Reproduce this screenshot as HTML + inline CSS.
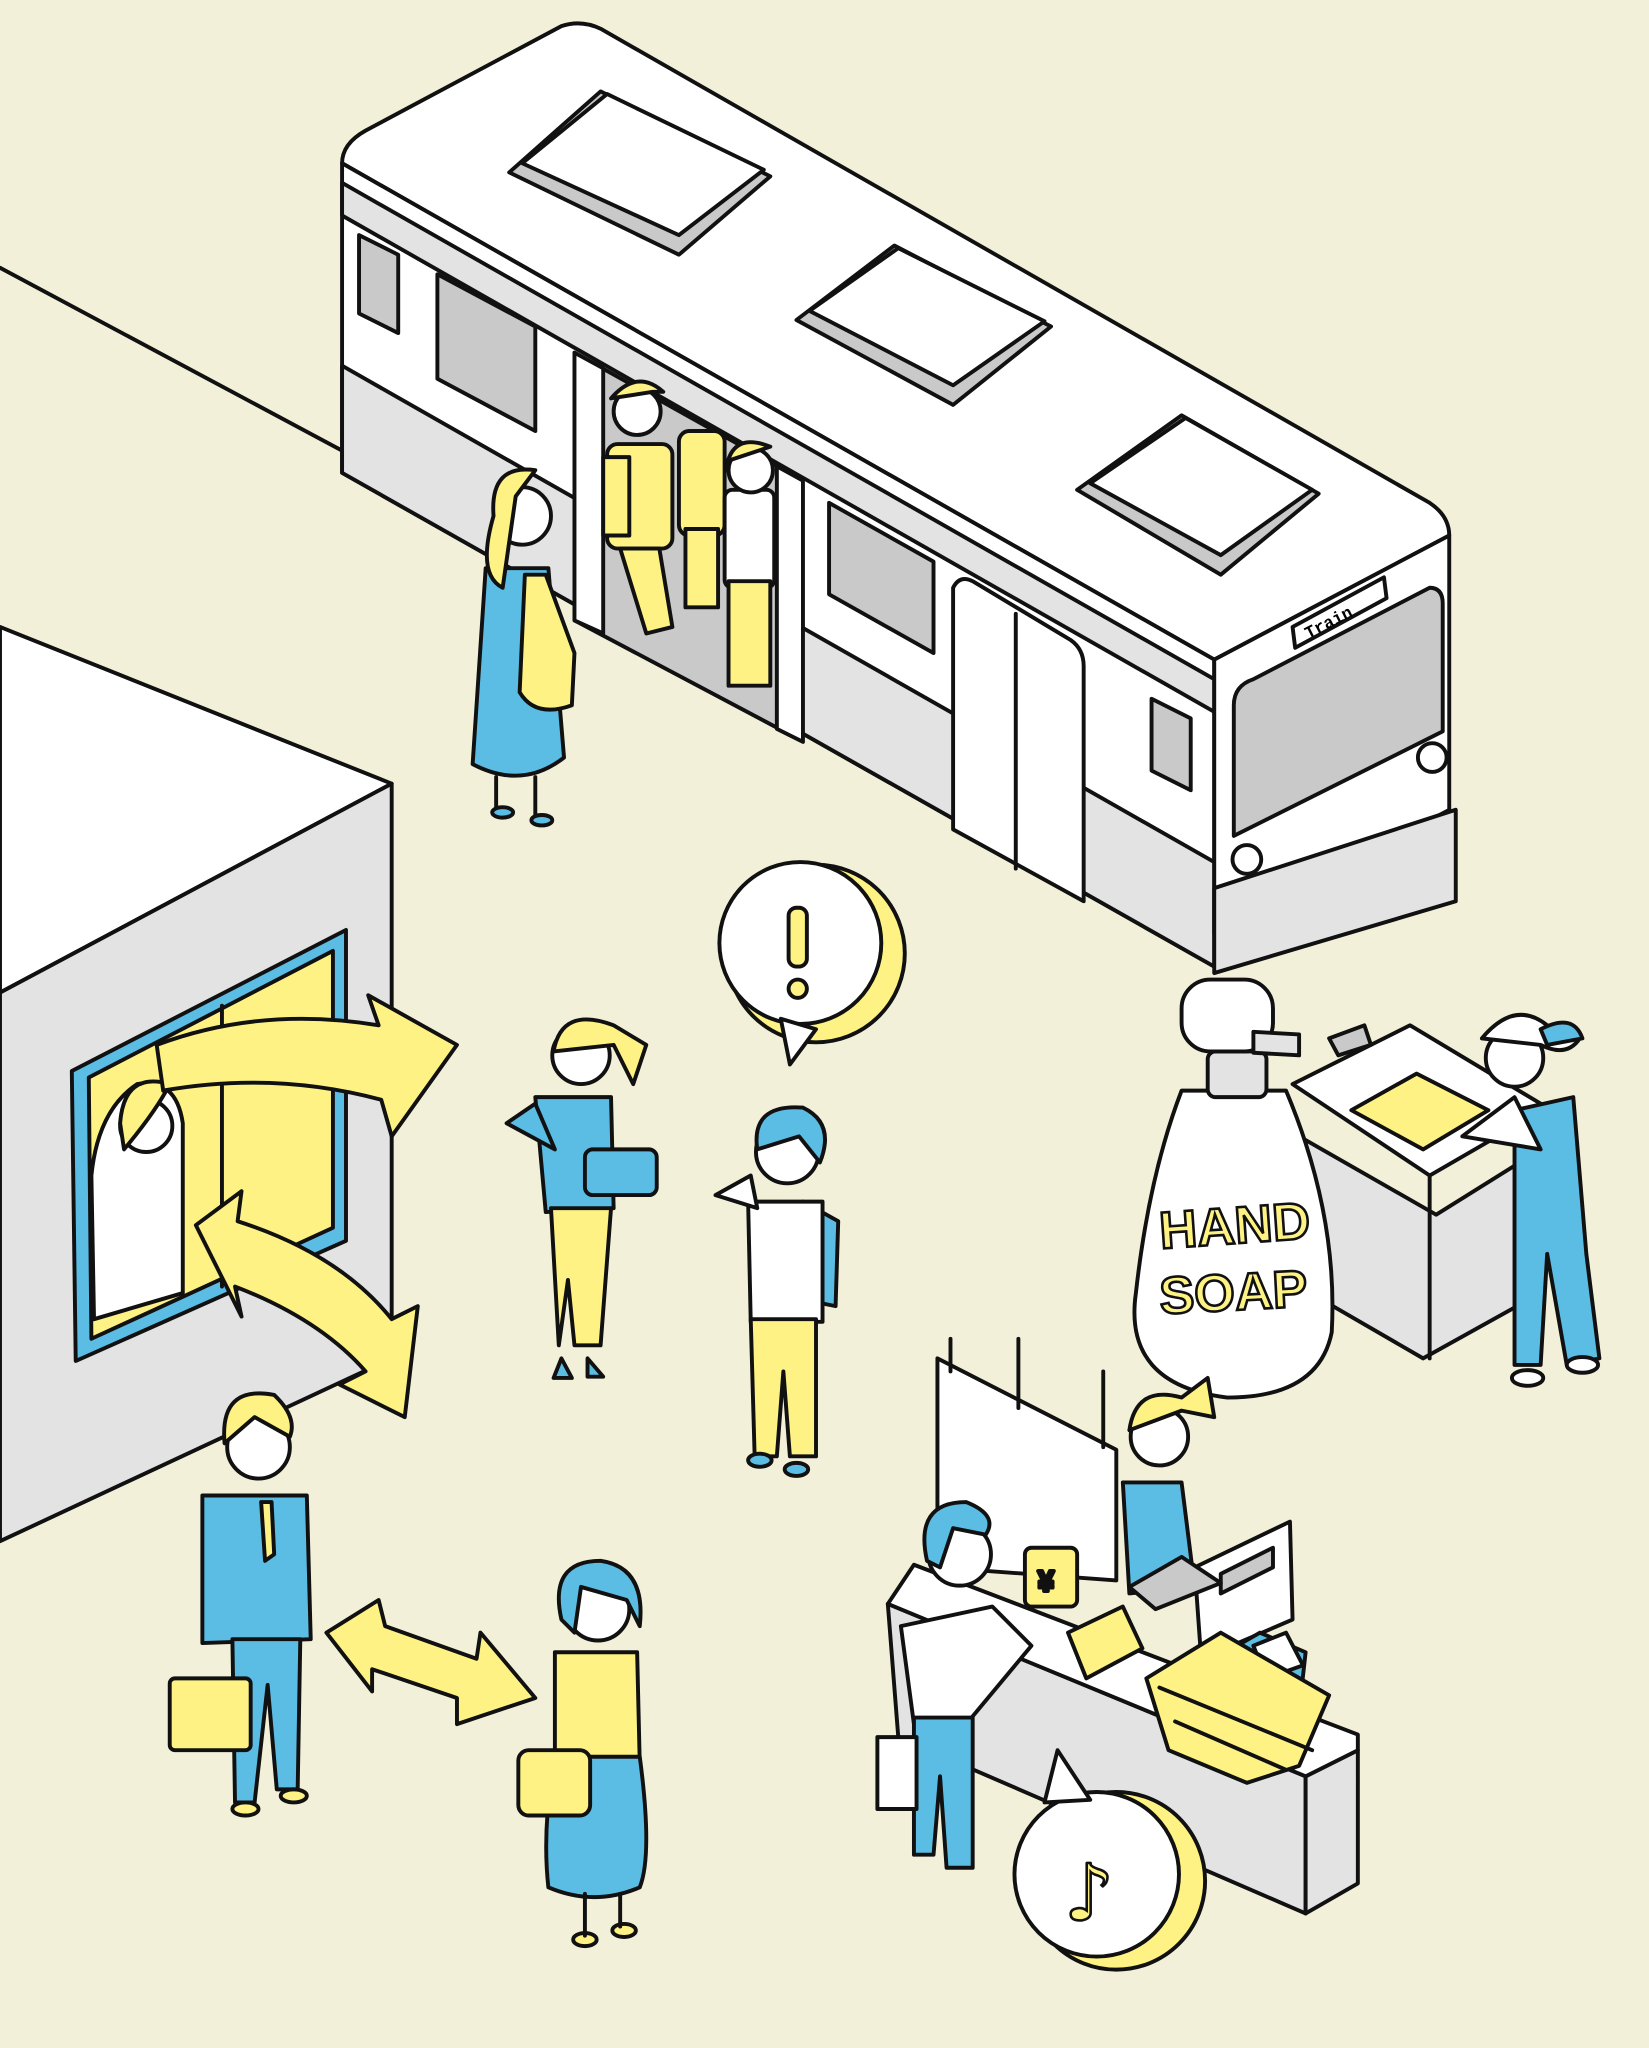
<!DOCTYPE html>
<html><head><meta charset="utf-8"><style>
html,body{margin:0;padding:0;background:#f3f0da}
svg{display:block}
</style></head><body>
<svg width="1649" height="2048" viewBox="0 0 1263 1568" preserveAspectRatio="none" xmlns="http://www.w3.org/2000/svg">
<defs><style>
.k{stroke:#111;stroke-width:3;stroke-linejoin:round;stroke-linecap:round}
.w{fill:#fff}.g{fill:#e3e3e3}.d{fill:#c9c9c9}.b{fill:#5bbce4}.y{fill:#fdf283}.n{fill:none}
</style></defs>
<rect width="1263" height="1568" fill="#f3f0da"/>
<path class="k n" d="M0 205 L262 345"/>
<!-- TRAIN -->
<path class="k w" d="M262 125 Q262 110 280 100 L430 20 Q445 15 460 22 L1095 385 Q1110 395 1110 410 L930 505 Z"/>
<path class="k w" d="M262 125 L930 505 L930 740 L262 362 Z"/>
<path class="k g" d="M262 140 L930 520 L930 545 L262 165 Z"/>
<path class="k g" d="M262 280 L930 660 L930 740 L262 362 Z"/>
<path class="k w" d="M930 505 L1110 410 L1110 620 L930 715 Z"/>
<path class="k g" d="M930 680 L1115 620 L1115 690 L930 745 Z"/>
<path class="k d" d="M945 540 Q945 525 960 520 L1095 450 Q1105 450 1105 462 L1105 560 L945 640 Z"/>
<circle class="k w" cx="955" cy="658" r="11"/><circle class="k w" cx="1097" cy="580" r="11"/>
<path class="k w" d="M990 480 L1060 442 L1062 458 L992 496 Z"/>
<text x="0" y="0" font-family="Liberation Mono,monospace" font-size="13" font-weight="bold" transform="translate(1002 489) rotate(-27)">Train</text>
<path class="k d" d="M882 535 L912 550 L912 605 L882 590 Z"/>
<path class="k d" d="M390 132 L460 70 L590 135 L520 195 Z"/><path class="k w" d="M400 125 L465 72 L585 130 L520 180 Z"/>
<path class="k d" d="M610 245 L685 188 L805 250 L730 310 Z"/><path class="k w" d="M620 238 L688 190 L800 246 L730 295 Z"/>
<path class="k d" d="M825 375 L905 318 L1010 378 L935 440 Z"/><path class="k w" d="M835 370 L908 320 L1005 375 L935 425 Z"/>
<path class="k d" d="M275 180 L305 195 L305 255 L275 240 Z"/>
<path class="k d" d="M335 210 L410 250 L410 330 L335 290 Z"/>
<path class="k d" d="M635 385 L715 430 L715 500 L635 455 Z"/>
<path class="k d" d="M440 270 L610 365 L610 565 L440 475 Z"/>
<path class="k w" d="M440 270 L462 282 L462 485 L440 475 Z"/>
<path class="k w" d="M595 357 L615 368 L615 568 L595 558 Z"/>
<path class="k w" d="M730 450 Q735 440 745 445 L820 490 Q830 497 830 510 L830 690 L730 635 Z"/>
<path class="k n" d="M778 470 L778 665"/>
<g class="k">
<rect class="y" x="520" y="330" width="35" height="80" rx="8"/><rect class="y" x="525" y="405" width="25" height="60"/>
<rect class="y" x="465" y="340" width="50" height="80" rx="8"/><circle class="w" cx="488" cy="315" r="18"/><path class="y" d="M468 305 Q488 282 508 300 L500 300 Z"/>
<path class="y" d="M475 420 L505 420 L515 480 L495 485 Z"/><rect class="y" x="462" y="350" width="20" height="60"/>
<rect class="w" x="555" y="375" width="38" height="75" rx="6"/><rect class="y" x="558" y="445" width="32" height="80"/>
<circle class="w" cx="575" cy="360" r="17"/><path class="y" d="M556 360 Q560 330 590 342 L560 352 Z"/>
</g>
<g class="k">
<path class="b" d="M372 435 L420 435 L432 580 Q400 605 362 585 Z"/>
<circle class="w" cx="400" cy="395" r="22"/>
<path class="y" d="M378 395 Q375 355 410 360 L395 380 L385 450 Q365 440 378 395 Z"/>
<path class="y" d="M402 440 L418 440 L440 500 L438 540 Q410 550 398 530 Z"/>
<path class="n" d="M380 595 L380 620 M410 595 L410 625"/>
<ellipse class="b" cx="385" cy="622" rx="8" ry="4"/><ellipse class="b" cx="415" cy="628" rx="8" ry="4"/>
</g>
<!-- BUILDING -->
<path class="k w" d="M0 480 L300 600 L0 760 Z"/>
<path class="k g" d="M0 760 L300 600 L300 1040 L0 1180 Z"/>
<path class="k b" d="M55 820 L265 712 L265 950 L58 1042 Z"/>
<path class="k y" d="M68 825 L255 728 L255 940 L70 1025 Z"/>
<path class="k n" d="M170 770 L170 985"/>
<g class="k"><path class="w" d="M70 900 Q75 850 105 830 Q135 825 140 860 L140 990 L72 1010 Z"/><circle class="w" cx="112" cy="862" r="20"/><path class="y" d="M92 860 Q95 820 130 830 Q120 850 95 880 Z"/></g>
<path class="k y" d="M120 800 Q200 770 290 785 L282 762 L350 800 L300 870 L292 842 Q210 820 125 835 Z"/>
<path class="k y" d="M150 938 L185 912 L182 935 Q260 960 300 1010 L320 1000 L310 1085 L260 1060 L280 1050 Q245 1010 180 985 L185 1008 Z"/>
<path class="k y" d="M250 1250 L290 1225 L295 1245 L365 1270 L368 1250 L410 1300 L350 1320 L350 1300 L285 1278 L285 1295 Z"/>
<g class="k"><circle class="y" cx="625" cy="730" r="68"/><circle class="w" cx="613" cy="722" r="62"/>
<path class="w" d="M598 780 L605 815 L625 788 Z"/>
<rect class="y" x="604" y="695" width="14" height="45" rx="6"/><circle class="y" cx="611" cy="757" r="7"/></g>
<g class="k">
<path class="b" d="M410 840 L468 840 L470 925 L418 928 Z"/>
<path class="b" d="M410 845 L388 860 L425 880 Z"/>
<path class="y" d="M422 925 L468 925 L460 1030 L440 1030 L435 980 L428 1030 Z"/>
<circle class="w" cx="445" cy="808" r="22"/><path class="y" d="M424 805 Q430 770 470 785 L495 800 L485 830 L470 800 Z"/>
<rect class="b" x="448" y="880" width="55" height="35" rx="6"/>
<path class="b" d="M430 1040 l-6 15 h14 Z M450 1040 l0 14 h12 Z"/>
</g>
<g class="k">
<path class="b" d="M615 920 L642 935 L640 1000 L615 995 Z"/>
<path class="w" d="M573 920 L630 920 L630 1012 L575 1012 Z"/>
<path class="y" d="M575 1010 L625 1010 L625 1115 L605 1115 L600 1050 L595 1115 L578 1115 Z"/>
<circle class="w" cx="603" cy="882" r="24"/><path class="b" d="M580 880 Q575 845 615 848 Q640 860 628 890 L612 870 Z"/>
<path class="w" d="M548 915 L575 900 L580 925 Z"/>
<ellipse class="b" cx="582" cy="1118" rx="9" ry="5"/><ellipse class="b" cx="610" cy="1125" rx="9" ry="5"/>
</g>
<g class="k">
<path class="b" d="M155 1145 L235 1145 L238 1255 L155 1258 Z"/>
<path class="b" d="M178 1255 L230 1255 L228 1370 L212 1370 L205 1290 L195 1380 L180 1380 Z"/>
<circle class="w" cx="198" cy="1108" r="24"/><path class="y" d="M172 1105 Q168 1060 210 1068 Q228 1085 222 1100 L195 1085 Z"/>
<path class="y" d="M200 1150 L208 1150 L210 1190 L203 1195 Z"/>
<rect class="y" x="130" y="1285" width="62" height="55" rx="4"/>
<ellipse class="y" cx="188" cy="1385" rx="10" ry="5"/><ellipse class="y" cx="225" cy="1375" rx="10" ry="5"/>
</g>
<g class="k">
<path class="y" d="M425 1265 L488 1265 L490 1350 L425 1350 Z"/>
<path class="b" d="M425 1345 L490 1345 Q500 1420 490 1445 Q455 1460 420 1445 Q415 1400 425 1345 Z"/>
<circle class="w" cx="458" cy="1232" r="24"/><path class="b" d="M430 1240 Q420 1195 460 1195 Q495 1200 490 1245 L480 1225 L445 1215 L440 1250 Z"/>
<rect class="y" x="397" y="1340" width="55" height="50" rx="8"/>
<ellipse class="y" cx="448" cy="1485" rx="9" ry="5"/><ellipse class="y" cx="478" cy="1478" rx="9" ry="5"/>
<path class="n" d="M448 1450 L448 1482 M475 1450 L475 1475"/>
</g>
<!-- SINK -->
<g class="k">
<path class="g" d="M995 870 L1100 930 L1180 880 L1180 990 L1090 1040 L995 985 Z"/>
<path class="w" d="M990 830 L1080 785 L1185 848 L1095 900 Z"/>
<path class="y" d="M1035 850 L1085 822 L1140 850 L1090 880 Z"/>
<path class="d" d="M1018 795 L1045 785 L1050 800 L1025 808 Z"/>
<path class="n" d="M1095 900 L1095 1040"/>
</g>
<g class="k">
<path class="b" d="M1160 850 L1205 840 L1215 960 L1225 1040 L1200 1045 L1185 960 L1180 1045 L1160 1045 Z"/>
<path class="w" d="M1120 870 L1160 840 L1180 880 Z"/>
<circle class="w" cx="1160" cy="810" r="22"/><path class="w" d="M1135 795 Q1160 765 1185 785 L1210 795 Q1200 810 1180 800 Z"/>
<path class="b" d="M1180 788 Q1205 775 1212 795 L1185 800 Z"/>
<ellipse class="w" cx="1170" cy="1055" rx="12" ry="6"/><ellipse class="w" cx="1212" cy="1045" rx="12" ry="6"/>
</g>
<g class="k">
<path class="w" d="M905 835 Q880 900 870 990 Q860 1060 940 1070 Q1010 1070 1020 1020 Q1025 930 985 835 Z"/>
<rect class="g" x="925" y="805" width="45" height="35" rx="6"/>
<rect class="w" x="905" y="750" width="70" height="55" rx="22"/>
<path class="g" d="M960 790 L995 792 L995 808 L960 806 Z"/>
</g>
<text x="888" y="952" font-family="Liberation Sans,sans-serif" font-size="40" font-weight="bold" fill="#fdf283" stroke="#111" stroke-width="2" transform="rotate(-4 945 940)">HAND</text>
<text x="888" y="1003" font-family="Liberation Sans,sans-serif" font-size="40" font-weight="bold" fill="#fdf283" stroke="#111" stroke-width="2" transform="rotate(-3 945 990)">SOAP</text>
<!-- CHECKOUT -->
<g class="k">
<path class="w" d="M718 1040 L855 1110 L855 1210 L718 1200 Z"/>
<path class="n" d="M728 1025 L728 1050 M780 1025 L780 1078 M845 1050 L845 1108"/>
<circle class="w" cx="888" cy="1100" r="22"/><path class="y" d="M865 1095 Q870 1060 905 1070 L925 1055 L930 1085 L905 1080 Z"/>
<path class="b" d="M860 1135 L905 1135 L915 1215 L865 1220 Z"/>
<path class="g" d="M680 1228 L1000 1360 L1000 1465 L688 1330 Z"/>
<path class="g" d="M1000 1360 L1040 1340 L1040 1442 L1000 1465 Z"/>
<path class="w" d="M680 1228 L700 1198 L1040 1328 L1040 1340 L1000 1360 Z"/>
<path class="w" d="M915 1200 L988 1165 L990 1240 L920 1270 Z"/>
<path class="d" d="M935 1205 L975 1185 L975 1200 L935 1220 Z"/>
<path class="d" d="M865 1215 L905 1192 L935 1212 L885 1232 Z"/>
<path class="y" d="M818 1250 L860 1230 L875 1262 L832 1285 Z"/>
<path class="b" d="M930 1270 L965 1250 L1000 1265 L995 1310 L955 1330 Z"/>
<path class="w" d="M960 1260 L985 1250 L998 1275 L970 1285 Z"/>
<path class="y" d="M878 1285 L935 1250 L1018 1298 L995 1352 L955 1365 L895 1340 Z"/>
<path class="n" d="M888 1292 L1005 1340 M900 1318 L985 1355"/>
<path class="w" d="M690 1245 L760 1230 L790 1260 L740 1320 L700 1320 Z"/>
<path class="b" d="M700 1315 L745 1315 L745 1430 L725 1430 L720 1360 L715 1420 L700 1420 Z"/>
<circle class="w" cx="735" cy="1190" r="24"/><path class="b" d="M710 1195 Q700 1150 740 1150 Q765 1160 755 1175 L730 1170 L720 1200 Z"/>
<rect class="y" x="785" y="1185" width="40" height="45" rx="5"/><text x="795" y="1218" font-family="Liberation Sans,sans-serif" font-size="22" font-weight="bold">¥</text>
<rect class="w" x="672" y="1330" width="30" height="55"/>
</g>
<g class="k"><circle class="y" cx="855" cy="1440" r="68"/><circle class="w" cx="840" cy="1435" r="63"/>
<path class="w" d="M800 1380 L810 1340 L835 1378 Z"/></g>
<text x="815" y="1470" font-family="DejaVu Sans,sans-serif" font-size="60" fill="#fdf283" stroke="#111" stroke-width="2">♪</text>
</svg>
</body></html>
